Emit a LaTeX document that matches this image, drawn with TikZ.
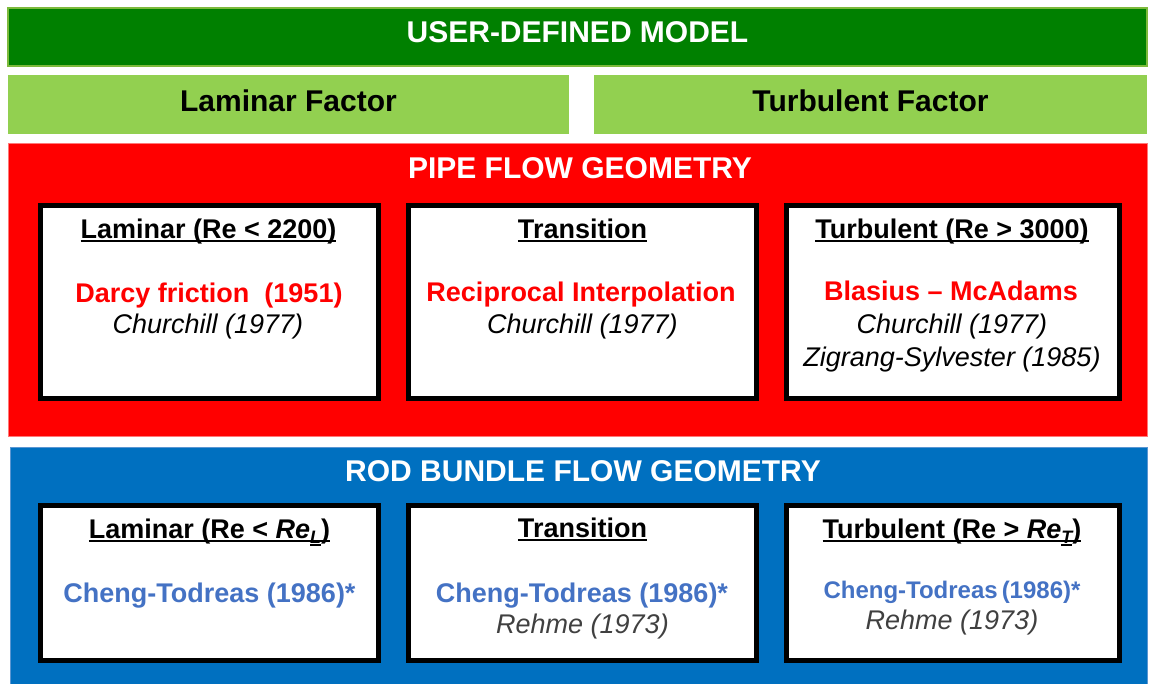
\documentclass[tikz,border=0pt]{standalone}
\usepackage{fontspec}
\setmainfont{Liberation Sans}
\definecolor{udgreen}{HTML}{008000}
\definecolor{udedge}{HTML}{7DBA3C}
\definecolor{facgreen}{HTML}{92D050}
\definecolor{pipered}{HTML}{FF0000}
\definecolor{rodblue}{HTML}{0070C0}
\definecolor{ctblue}{HTML}{4472C4}
\definecolor{rehmegray}{HTML}{404040}
% underline drawn at a fixed depth below the baseline
\newcommand\ulbox[1]{\setbox0\hbox{#1}\rlap{\rule[-0.13em]{\wd0}{0.07em}}\box0}
\newcommand\subL[1]{\raisebox{-0.2em}{\fontsize{18}{20}\selectfont\ulbox{\itshape #1}}}
\tikzset{
  band/.style={inner sep=0pt, anchor=center},
  bandtext/.style={anchor=base, text=white, font=\bfseries\fontsize{30}{36}\selectfont},
  factor/.style={band, fill=facgreen, minimum height=59pt, text height=21.5pt, text depth=7.1pt,
                 font=\bfseries\fontsize{30}{36}\selectfont},
  regime/.style={draw=black, line width=5pt, fill=white, inner sep=0pt, anchor=center},
  head/.style={anchor=base, font=\bfseries\fontsize{27}{32}\selectfont},
  primary/.style={anchor=base, font=\bfseries\fontsize{27}{32}\selectfont},
  secondary/.style={anchor=base, font=\itshape\fontsize{27}{32}\selectfont},
}
\begin{document}
\begin{tikzpicture}[x=1pt,y=-1pt]
\useasboundingbox (0,0) rectangle (1149,683);

% user-defined model
\node[band, fill=udgreen, draw=udedge, line width=1.2pt, minimum width=1139pt, minimum height=58pt,
      text height=21.5pt, text depth=10.9pt,
      text=white, font=\bfseries\fontsize{30}{36}\selectfont] (user) at (577.5,37) {USER-DEFINED MODEL};
\node[factor, minimum width=561pt] (lamfac) at (288.5,104.5) {Laminar Factor};
\node[factor, minimum width=553pt] (turbfac) at (870.5,104.5) {Turbulent Factor};

% pipe flow geometry
\node[band, fill=pipered, draw={rgb,255:red,255;green,120;blue,120}, line width=0.8pt,
      minimum width=1139pt, minimum height=293pt] (pipe) at (577.5,289.5) {};
\node[bandtext] (pipetitle) at (580,178) {PIPE FLOW GEOMETRY};

\node[regime, minimum width=338pt, minimum height=193pt] (plam) at (209.5,302) {};
\node[regime, minimum width=348pt, minimum height=193pt] (ptra) at (582.5,302) {};
\node[regime, minimum width=333pt, minimum height=193pt] (ptur) at (953,302) {};

\node[head] (plamh) at (208.5,238) {\ulbox{Laminar (Re < 2200)}};
\node[primary, text=pipered] (plam1) at (209,302) {Darcy friction\ \ (1951)};
\node[secondary] (plam2) at (208,333) {Churchill (1977)};

\node[head] (ptrah) at (582.5,238) {\ulbox{Transition}};
\node[primary, text=pipered] (ptra1) at (581,301) {Reciprocal Interpolation};
\node[secondary] (ptra2) at (582.5,333) {Churchill (1977)};

\node[head] (pturh) at (952,238) {\ulbox{Turbulent (Re > 3000)}};
\node[primary, text=pipered] (ptur1) at (951,300) {Blasius -- McAdams};
\node[secondary] (ptur2) at (952,333) {Churchill (1977)};
\node[secondary] (ptur3) at (952,366) {Zigrang-Sylvester (1985)};

% rod bundle flow geometry
\node[band, fill=rodblue, draw={rgb,255:red,90;green,150;blue,210}, line width=0.8pt,
      minimum width=1137pt, minimum height=237pt] (rod) at (578.5,565.5) {};
\node[bandtext] (rodtitle) at (583,481) {ROD BUNDLE FLOW GEOMETRY};

\node[regime, minimum width=338pt, minimum height=155pt] (rlam) at (209.5,583) {};
\node[regime, minimum width=348pt, minimum height=155pt] (rtra) at (582.5,583) {};
\node[regime, minimum width=333pt, minimum height=155pt] (rtur) at (953,583) {};

\node[head] (rlamh) at (209.5,538) {\ulbox{Laminar (Re < \textit{Re}\subL{L})}};
\node[primary, text=ctblue] (rlam1) at (209.5,602) {Cheng-Todreas (1986)*};

\node[head] (rtrah) at (582.5,537) {\ulbox{Transition}};
\node[primary, text=ctblue] (rtra1) at (582,602) {Cheng-Todreas (1986)*};
\node[secondary, text=rehmegray] (rtra2) at (582.5,633) {Rehme (1973)};

\node[head] (rturh) at (952,538) {\ulbox{Turbulent (Re > \textit{Re}\subL{T})}};
\node[primary, text=ctblue, font=\bfseries\fontsize{24}{28}\selectfont] (rtur1) at (952,598) {Cheng-Todreas\,(1986)*};
\node[secondary, text=rehmegray] (rtur2) at (952,629) {Rehme (1973)};
\end{tikzpicture}
\end{document}
